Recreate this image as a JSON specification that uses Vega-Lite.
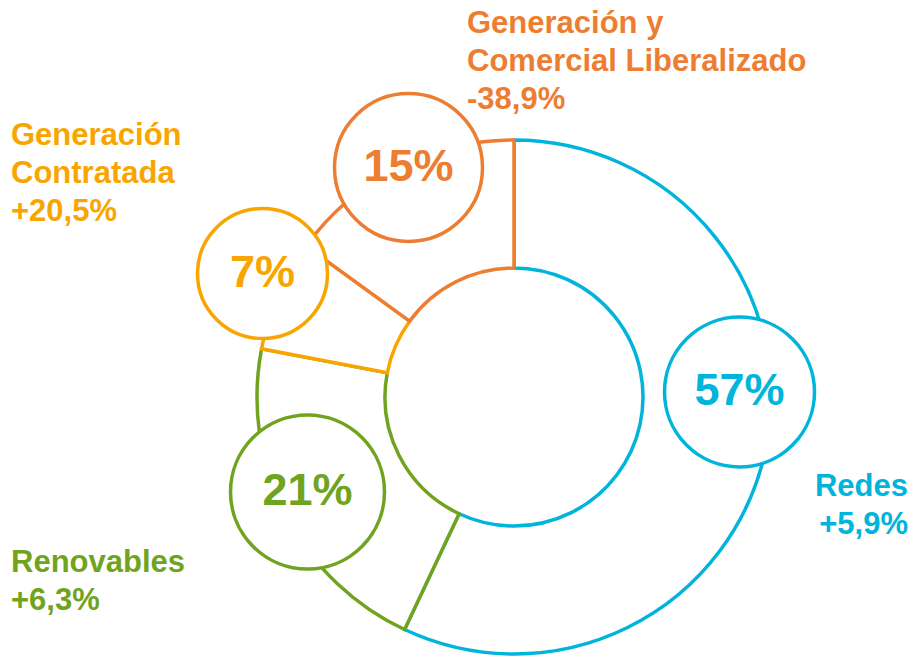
{
  "$schema": "https://vega.github.io/schema/vega-lite/v6.json",
  "autosize": {"type": "none"},
  "padding": {"left": 113, "top": 138, "right": 0, "bottom": 0},
  "width": 802,
  "height": 518,
  "background": "white",
  "config": {"view": {"stroke": null}},
  "datasets": {
    "segments": [
      {"segment": "Redes", "share": 57, "pct": "57%", "order": 1, "cx": 225.5, "cy": 5},
      {"segment": "Renovables", "share": 21, "pct": "21%", "order": 2, "cx": -206.5, "cy": -95},
      {"segment": "Generación Contratada", "share": 7, "pct": "7%", "order": 3, "cx": -251.5, "cy": 123.5},
      {"segment": "Generación y Comercial Liberalizado", "share": 15, "pct": "15%", "order": 4, "cx": -105.5, "cy": 229.5}
    ],
    "labels": [
      {"segment": "Redes", "label": "Redes\n+5,9%", "side": "right", "lx": 394, "ly": -99},
      {"segment": "Renovables", "label": "Renovables\n+6,3%", "side": "left", "lx": -503, "ly": -175},
      {"segment": "Generación Contratada", "label": "Generación\nContratada\n+20,5%", "side": "left", "lx": -503, "ly": 252},
      {"segment": "Generación y Comercial Liberalizado", "label": "Generación y\nComercial Liberalizado\n-38,9%", "side": "left", "lx": -47, "ly": 364}
    ]
  },
  "layer": [
    {
      "data": {"name": "segments"},
      "mark": {"type": "arc", "innerRadius": 129, "outerRadius": 257, "fill": "white", "strokeWidth": 3.5},
      "encoding": {
        "theta": {"field": "share", "type": "quantitative", "stack": true},
        "order": {"field": "order", "type": "quantitative"},
        "stroke": {"field": "segment", "type": "nominal", "legend": null,
          "scale": {"domain": ["Redes", "Renovables", "Generación Contratada", "Generación y Comercial Liberalizado"],
                    "range": ["#00B4DC", "#70A41E", "#F9A500", "#ED7D31"]}}
      }
    },
    {
      "data": {"name": "segments"},
      "mark": {"type": "point", "shape": "circle", "filled": false, "fill": "white", "fillOpacity": 1, "strokeWidth": 3.5, "opacity": 1},
      "encoding": {
        "x": {"field": "cx", "type": "quantitative", "axis": null, "scale": {"domain": [-401, 401], "zero": false, "nice": false}},
        "y": {"field": "cy", "type": "quantitative", "axis": null, "scale": {"domain": [-259, 259], "zero": false, "nice": false}},
        "size": {"field": "segment", "type": "nominal", "legend": null,
          "scale": {"type": "ordinal", "domain": ["Redes", "Renovables", "Generación Contratada", "Generación y Comercial Liberalizado"],
                    "range": [22500, 23716, 16900, 21904]}},
        "stroke": {"field": "segment", "type": "nominal", "legend": null,
          "scale": {"domain": ["Redes", "Renovables", "Generación Contratada", "Generación y Comercial Liberalizado"],
                    "range": ["#00B4DC", "#70A41E", "#F9A500", "#ED7D31"]}}
      }
    },
    {
      "data": {"name": "segments"},
      "mark": {"type": "text", "font": "Liberation Sans", "fontWeight": "bold", "fontSize": 45, "align": "center", "baseline": "alphabetic", "dy": 13},
      "encoding": {
        "x": {"field": "cx", "type": "quantitative"},
        "y": {"field": "cy", "type": "quantitative"},
        "text": {"field": "pct"},
        "color": {"field": "segment", "type": "nominal", "legend": null,
          "scale": {"domain": ["Redes", "Renovables", "Generación Contratada", "Generación y Comercial Liberalizado"],
                    "range": ["#00B4DC", "#70A41E", "#F9A500", "#ED7D31"]}}
      }
    },
    {
      "data": {"name": "labels"},
      "transform": [{"filter": "datum.side === 'left'"}],
      "mark": {"type": "text", "font": "Liberation Sans", "fontWeight": "bold", "fontSize": 31, "align": "left", "baseline": "alphabetic", "lineBreak": "\n", "lineHeight": 38},
      "encoding": {
        "x": {"field": "lx", "type": "quantitative"},
        "y": {"field": "ly", "type": "quantitative"},
        "text": {"field": "label"},
        "color": {"field": "segment", "type": "nominal", "legend": null,
          "scale": {"domain": ["Redes", "Renovables", "Generación Contratada", "Generación y Comercial Liberalizado"],
                    "range": ["#00B4DC", "#70A41E", "#F9A500", "#ED7D31"]}}
      }
    },
    {
      "data": {"name": "labels"},
      "transform": [{"filter": "datum.side === 'right'"}],
      "mark": {"type": "text", "font": "Liberation Sans", "fontWeight": "bold", "fontSize": 31, "align": "right", "baseline": "alphabetic", "lineBreak": "\n", "lineHeight": 38},
      "encoding": {
        "x": {"field": "lx", "type": "quantitative"},
        "y": {"field": "ly", "type": "quantitative"},
        "text": {"field": "label"},
        "color": {"field": "segment", "type": "nominal", "legend": null,
          "scale": {"domain": ["Redes", "Renovables", "Generación Contratada", "Generación y Comercial Liberalizado"],
                    "range": ["#00B4DC", "#70A41E", "#F9A500", "#ED7D31"]}}
      }
    }
  ]
}
